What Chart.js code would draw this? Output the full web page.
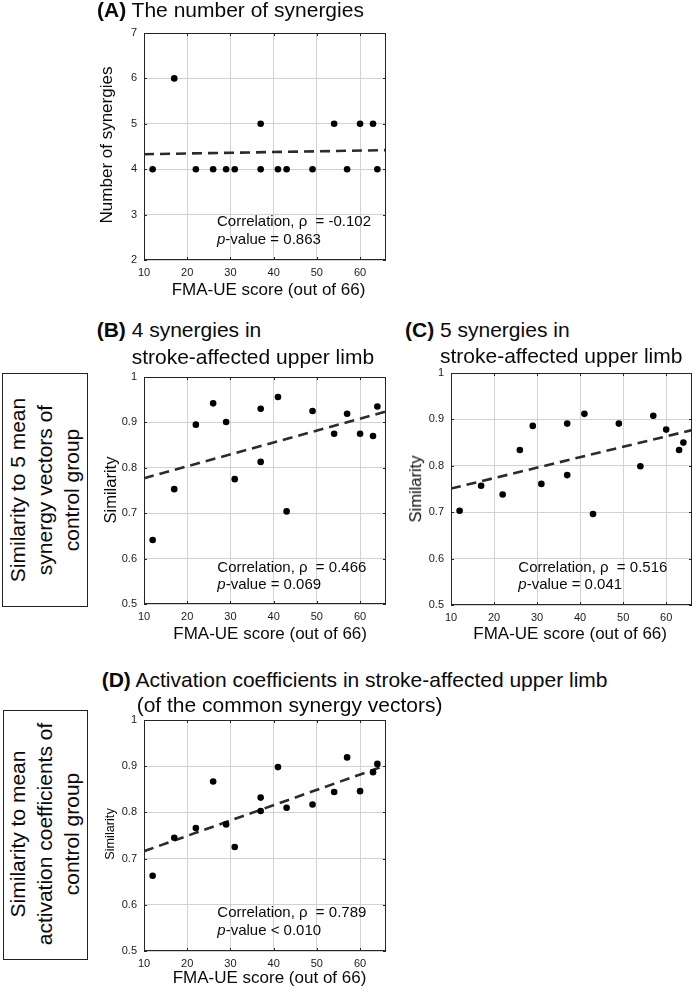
<!DOCTYPE html>
<html>
<head>
<meta charset="utf-8">
<script src="https://cdn.jsdelivr.net/npm/chart.js@4.4.0/dist/chart.umd.min.js"></script>
<style>
  body { margin: 0; background: #fff; }
  #page { position: relative; width: 696px; height: 992px; overflow: hidden;
          font-family: "Liberation Sans", Arial, Helvetica, sans-serif; color: #0a0a0a; }
  #page canvas { position: absolute; }
  .t { position: absolute; white-space: nowrap; }
  .box { position: absolute; border: 1.5px solid #222; box-sizing: border-box; }
</style>
</head>
<body>
<div id="page"></div>
<script>
// FMA-UE score of each patient (same patients in every panel)
const fmaScore = [12, 17, 22, 26, 29, 31, 37, 37, 41, 43, 49, 54, 57, 60, 63, 64];
// (A) number of synergies
const synergyCount = [4, 6, 4, 4, 4, 4, 5, 4, 4, 4, 4, 5, 4, 5, 5, 4];
// (B) similarity, 4 synergies
const simFour = [0.641, 0.753, 0.895, 0.942, 0.901, 0.775, 0.930, 0.813, 0.956, 0.704, 0.925, 0.875, 0.919, 0.875, 0.870, 0.935];
// (C) similarity, 5 synergies
const simFive = [0.703, 0.757, 0.738, 0.834, 0.886, 0.761, 0.780, 0.891, 0.912, 0.696, 0.891, 0.799, 0.908, 0.878, 0.834, 0.850];
// (D) similarity of activation coefficients
const simActivation = [0.663, 0.745, 0.766, 0.867, 0.774, 0.725, 0.832, 0.803, 0.898, 0.810, 0.817, 0.844, 0.919, 0.846, 0.887, 0.905];

// dashed fit lines, read at both ends of the x range
const fitX = [10, 66];
const fitA = [4.33, 4.42];
const fitB = [0.777, 0.924];
const fitC = [0.751, 0.877];
const fitD = [0.716, 0.902];

const xTicks = [10, 20, 30, 40, 50, 60];
const countTicks = [2, 3, 4, 5, 6, 7];
const simTicks = [0.5, 0.6, 0.7, 0.8, 0.9, 1];

const page = document.getElementById('page');
const FONT = '"Liberation Sans", Arial, Helvetica, sans-serif';

// text placed by its baseline
function label(html, x, baseline, size) {
    let d = document.createElement('div');
    d.className = 't';
    d.innerHTML = html;
    d.style.left = x + 'px';
    d.style.fontSize = size + 'px';
    d.style.lineHeight = (size * 1.2) + 'px';
    d.style.top = (baseline - size * 0.946) + 'px';
    page.appendChild(d);
}

// rotated text placed by its centre
function vlabel(html, cx, cy, size, lh) {
    let d = document.createElement('div');
    d.className = 't';
    d.innerHTML = html;
    d.style.left = cx + 'px';
    d.style.top = cy + 'px';
    d.style.fontSize = size + 'px';
    d.style.lineHeight = (lh || size * 1.2) + 'px';
    d.style.textAlign = 'center';
    d.style.transform = 'translate(-50%, -50%) rotate(-90deg)';
    page.appendChild(d);
}

// box round the axes plus short inward ticks on all four sides
const framePlugin = {
    id: 'frame',
    afterDraw(chart) {
        const a = chart.chartArea, ctx = chart.ctx;
        const sx = chart.scales.x, sy = chart.scales.y;
        ctx.save();
        ctx.strokeStyle = '#262626';
        ctx.lineWidth = 1;
        ctx.strokeRect(a.left + 0.5, a.top + 0.5, a.right - a.left - 1, a.bottom - a.top - 1);
        ctx.beginPath();
        sx.ticks.forEach(t => {
            const px = Math.round(sx.getPixelForValue(t.value)) + 0.5;
            ctx.moveTo(px, a.bottom); ctx.lineTo(px, a.bottom - 3);
            ctx.moveTo(px, a.top); ctx.lineTo(px, a.top + 3);
        });
        sy.ticks.forEach(t => {
            const py = Math.round(sy.getPixelForValue(t.value)) + 0.5;
            ctx.moveTo(a.left, py); ctx.lineTo(a.left + 3, py);
            ctx.moveTo(a.right, py); ctx.lineTo(a.right - 3, py);
        });
        ctx.stroke();
        ctx.restore();
    }
};

function panel(area, yMin, yMax, yTicks, yVals, fitY, padR) {
    padR = padR === undefined ? 8 : padR;
    const yw = 50, xh = 22, padT = 14;
    let cv = document.createElement('canvas');
    let w = area.r - area.l + yw + padR, h = area.b - area.t + padT + xh;
    cv.width = w; cv.height = h;
    cv.style.left = (area.l - yw) + 'px';
    cv.style.top = (area.t - padT) + 'px';
    cv.style.width = w + 'px'; cv.style.height = h + 'px';
    page.appendChild(cv);

    const tickFont = { family: FONT, size: 11 };
    new Chart(cv.getContext('2d'), {
        type: 'scatter',
        data: {
            datasets: [{
                data: fmaScore.map((x, i) => ({ x: x, y: yVals[i] })),
                backgroundColor: '#000',
                borderWidth: 0,
                pointRadius: 3.3
            }, {
                data: fitX.map((x, i) => ({ x: x, y: fitY[i] })),
                showLine: true,
                borderColor: '#2b2b2b',
                borderWidth: 2.6,
                borderDash: [10, 6],
                pointRadius: 0
            }]
        },
        options: {
            responsive: false,
            animation: false,
            layout: { padding: { top: padT, right: padR, left: 0, bottom: 0 } },
            plugins: { legend: { display: false }, tooltip: { enabled: false } },
            scales: {
                x: {
                    type: 'linear', min: 10, max: 66,
                    afterBuildTicks: s => { s.ticks = xTicks.map(v => ({ value: v })); },
                    afterFit: s => { s.height = xh; },
                    grid: { color: '#d2d2d2', drawTicks: false },
                    border: { display: false },
                    ticks: { font: tickFont, color: '#1a1a1a', padding: 6, maxRotation: 0,
                             callback: v => String(v) }
                },
                y: {
                    min: yMin, max: yMax,
                    afterBuildTicks: s => { s.ticks = yTicks.map(v => ({ value: v })); },
                    afterFit: s => { s.width = yw; },
                    grid: { color: '#d2d2d2', drawTicks: false },
                    border: { display: false },
                    ticks: { font: tickFont, color: '#1a1a1a', padding: 7,
                             callback: v => String(v) }
                }
            }
        },
        plugins: [framePlugin]
    });
}

// plot areas
panel({ l: 144, t: 33, r: 386, b: 260 }, 2, 7, countTicks, synergyCount, fitA);
panel({ l: 144, t: 377, r: 386, b: 604 }, 0.5, 1, simTicks, simFour, fitB);
panel({ l: 451, t: 373, r: 693, b: 605 }, 0.5, 1, simTicks, simFive, fitC, 3);
panel({ l: 144, t: 720, r: 386, b: 951 }, 0.5, 1, simTicks, simActivation, fitD);

// panel titles
label('<b>(A)</b> The number of synergies', 97, 17, 21);
label('<b>(B)</b> 4 synergies in', 96.7, 337.3, 21);
label('stroke-affected upper limb', 131.7, 364, 21);
label('<b>(C)</b> 5 synergies in', 405, 336.7, 21);
label('stroke-affected upper limb', 440, 363.3, 21);
label('<b>(D)</b> Activation coefficients in stroke-affected upper limb', 101.7, 686.7, 21);
label('(of the common synergy vectors)', 136.7, 711.7, 21);

// correlation notes
label('Correlation, \u03c1&nbsp; = -0.102', 217, 226.5, 15);
label('<i>p</i>-value = 0.863', 217, 244.3, 15);
label('Correlation, \u03c1&nbsp; = 0.466', 217.3, 571.7, 15);
label('<i>p</i>-value = 0.069', 217.3, 589.3, 15);
label('Correlation, \u03c1&nbsp; = 0.516', 518.3, 571.7, 15);
label('<i>p</i>-value = 0.041', 518.3, 589.3, 15);
label('Correlation, \u03c1&nbsp; = 0.789', 217.3, 917.3, 15);
label('<i>p</i>-value &lt; 0.010', 217.3, 935, 15);

// x axis titles
label('FMA-UE score (out of 66)', 171.7, 296.5, 17);
label('FMA-UE score (out of 66)', 173.3, 640, 17);
label('FMA-UE score (out of 66)', 473.3, 640, 17);
label('FMA-UE score (out of 66)', 172.7, 984, 17);

// y axis titles
vlabel('Number of synergies', 107.4, 145, 17);
vlabel('Similarity', 111.3, 489.5, 16.5);
vlabel('Similarity', 416, 489, 16.5);
vlabel('Similarity', 110.6, 834, 12.7);

// row labels in boxes
let b1 = document.createElement('div');
b1.className = 'box';
Object.assign(b1.style, { left: '2px', top: '373px', width: '86px', height: '234px' });
page.appendChild(b1);
let b2 = document.createElement('div');
b2.className = 'box';
Object.assign(b2.style, { left: '3px', top: '710px', width: '85px', height: '250px' });
page.appendChild(b2);
vlabel('Similarity to 5 mean<br>synergy vectors of<br>control group', 45.4, 489.5, 21, 26.8);
vlabel('Similarity to mean<br>activation coefficients of<br>control group', 45.4, 834.2, 21, 26.8);
</script>
</body>
</html>
